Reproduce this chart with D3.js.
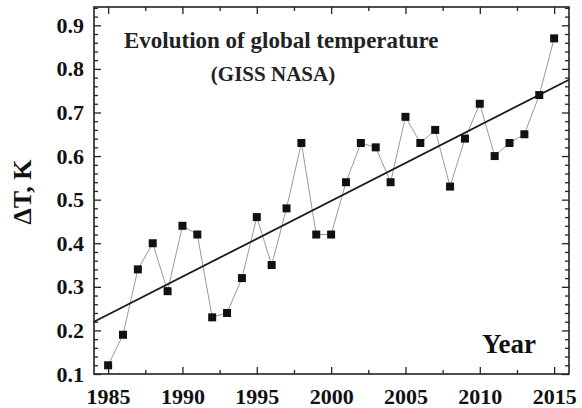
<!DOCTYPE html>
<html><head><meta charset="utf-8">
<script src="https://cdn.jsdelivr.net/npm/d3@7"></script>
<style>html,body{margin:0;padding:0;background:#fff;}svg{display:block;}</style>
</head><body>
<script>
const years = [1985,1986,1987,1988,1989,1990,1991,1992,1993,1994,1995,1996,1997,1998,1999,2000,2001,2002,2003,2004,2005,2006,2007,2008,2009,2010,2011,2012,2013,2014,2015];
const anomalies = [0.12,0.19,0.34,0.40,0.29,0.44,0.42,0.23,0.24,0.32,0.46,0.35,0.48,0.63,0.42,0.42,0.54,0.63,0.62,0.54,0.69,0.63,0.66,0.53,0.64,0.72,0.60,0.63,0.65,0.74,0.87];
const trendYears = [1984.05, 2016];
const trendValues = [0.22, 0.775];
const xTickLabels = [1985,1990,1995,2000,2005,2010,2015];
const yTickLabels = [0.1,0.2,0.3,0.4,0.5,0.6,0.7,0.8,0.9];
const titleText = "Evolution of global temperature";
const subtitleText = "(GISS NASA)";
const xLabel = "Year";
const yLabel = "ΔT, K";

const W = 582, H = 408;
const L = 94, R = 569, T = 7, B = 374;
const font = "'Liberation Serif','Times New Roman',serif";

const svg = d3.select("body").append("svg").attr("width", W).attr("height", H);
const x = d3.scaleLinear().domain([1984.05, 2016]).range([L, R]);
const y = d3.scaleLinear().domain([0.1, 0.942]).range([B, T]);

const xMinor = d3.range(1985, 2016.01, 2.5).filter(v => !xTickLabels.includes(v));
const yMinor = d3.range(0.1, 0.941, 0.02).map(v => +v.toFixed(2)).filter(v => !yTickLabels.some(t => Math.abs(t - v) < 1e-6));

const axisStyle = g => { g.select(".domain").remove(); g.selectAll("line").attr("stroke", "#222").attr("stroke-width", 1.3); };
const labelStyle = g => g.selectAll("text").attr("font-family", font).attr("font-weight", "bold").attr("font-size", 22).attr("fill", "#111");

// bottom
svg.append("g").attr("transform", `translate(0,${B})`)
  .call(d3.axisBottom(x).tickValues(xTickLabels).tickSize(-7).tickFormat(d3.format("d")).tickPadding(14))
  .call(axisStyle).call(labelStyle);
svg.append("g").attr("transform", `translate(0,${B})`)
  .call(d3.axisBottom(x).tickValues(xMinor).tickSize(-4).tickFormat(""))
  .call(axisStyle);
// top
svg.append("g").attr("transform", `translate(0,${T})`)
  .call(d3.axisTop(x).tickValues(xTickLabels).tickSize(-7).tickFormat(""))
  .call(axisStyle);
svg.append("g").attr("transform", `translate(0,${T})`)
  .call(d3.axisTop(x).tickValues(xMinor).tickSize(-4).tickFormat(""))
  .call(axisStyle);
// left
svg.append("g").attr("transform", `translate(${L},0)`)
  .call(d3.axisLeft(y).tickValues(yTickLabels).tickSize(-7).tickFormat(d3.format(".1f")).tickPadding(10))
  .call(axisStyle).call(labelStyle);
svg.append("g").attr("transform", `translate(${L},0)`)
  .call(d3.axisLeft(y).tickValues(yMinor).tickSize(-4).tickFormat(""))
  .call(axisStyle);
// right
svg.append("g").attr("transform", `translate(${R},0)`)
  .call(d3.axisRight(y).tickValues(yTickLabels).tickSize(-7).tickFormat(""))
  .call(axisStyle);
svg.append("g").attr("transform", `translate(${R},0)`)
  .call(d3.axisRight(y).tickValues(yMinor).tickSize(-4).tickFormat(""))
  .call(axisStyle);

// frame
svg.append("rect").attr("x", L).attr("y", T).attr("width", R - L).attr("height", B - T)
  .attr("fill", "none").attr("stroke", "#222").attr("stroke-width", 1.6);

const data = years.map((yr, i) => ({yr, v: anomalies[i]}));

// connecting line
svg.append("path").datum(data)
  .attr("d", d3.line().x(d => x(d.yr)).y(d => y(d.v)))
  .attr("fill", "none").attr("stroke", "#999").attr("stroke-width", 1);

// trend line
svg.append("path").datum(trendYears.map((yr, i) => ({yr, v: trendValues[i]})))
  .attr("d", d3.line().x(d => x(d.yr)).y(d => y(d.v)))
  .attr("fill", "none").attr("stroke", "#1a1a1a").attr("stroke-width", 1.8);

// markers
const s = 8;
svg.append("g").selectAll("rect").data(data).join("rect")
  .attr("x", d => x(d.yr) - s / 2).attr("y", d => y(d.v) - s / 2)
  .attr("width", s).attr("height", s).attr("fill", "#111");

// texts
svg.append("text").attr("x", 124).attr("y", 48).text(titleText)
  .attr("font-family", font).attr("font-weight", "bold").attr("font-size", 23).attr("fill", "#222");
svg.append("text").attr("x", 273).attr("y", 81).attr("text-anchor", "middle").text(subtitleText)
  .attr("font-family", font).attr("font-weight", "bold").attr("font-size", 21).attr("fill", "#222");
svg.append("text").attr("x", 482).attr("y", 353).text(xLabel)
  .attr("font-family", font).attr("font-weight", "bold").attr("font-size", 27).attr("fill", "#111");
svg.append("text").attr("transform", "translate(31,192) rotate(-90)").attr("text-anchor", "middle").text(yLabel)
  .attr("font-family", font).attr("font-weight", "bold").attr("font-size", 26).attr("fill", "#111");
</script>
</body></html>
